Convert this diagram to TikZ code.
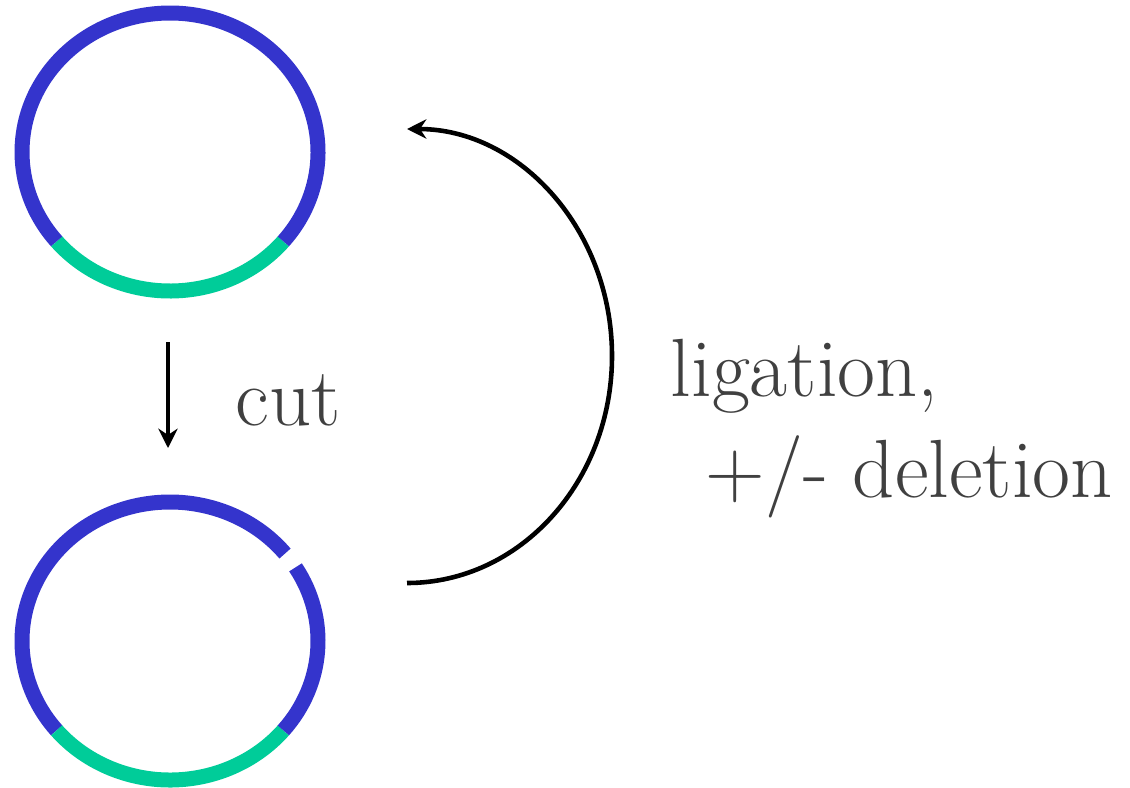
\documentclass[tikz,border=0pt]{standalone}
\usetikzlibrary{arrows.meta}

\definecolor{dnablue}{RGB}{52,52,204}
\definecolor{insertgreen}{RGB}{0,204,153}
\definecolor{textgray}{RGB}{64,64,64}

\tikzset{
  strand/.style={line width=0.15cm, line cap=butt},
  stepword/.style={text=textgray, inner sep=0pt, anchor=base west,
    font=\fontsize{23.5}{28.7}\selectfont},
  steparrow/.style={-{Stealth[length=5.5pt,width=5.5pt]}, line width=1pt}
}

\begin{document}
\begin{tikzpicture}
\useasboundingbox (0,0) rectangle (11.3,7.87);

% whole plasmid
\coordinate (plasmid) at (1.70,6.35);
\draw[strand, insertgreen] (plasmid) ++(220:1.48 and 1.39)
  arc[start angle=220, end angle=320, x radius=1.48, y radius=1.39];
\draw[strand, dnablue] (plasmid) ++(320:1.48 and 1.39)
  arc[start angle=320, end angle=580, x radius=1.48, y radius=1.39];

% cut plasmid
\coordinate (cutplasmid) at (1.70,1.46);
\draw[strand, dnablue] (cutplasmid) ++(39:1.48 and 1.39)
  arc[start angle=39, end angle=220, x radius=1.48, y radius=1.39];
\draw[strand, insertgreen] (cutplasmid) ++(220:1.48 and 1.39)
  arc[start angle=220, end angle=320, x radius=1.48, y radius=1.39];
\draw[strand, dnablue] (cutplasmid) ++(320:1.48 and 1.39)
  arc[start angle=320, end angle=392, x radius=1.48, y radius=1.39];

% cut step
\coordinate (cuttop) at (1.68,4.45);
\coordinate (cutbottom) at (1.68,3.39);
\draw[steparrow, line width=1.05pt] (cuttop) -- (cutbottom);
\node[stepword] (cut) at(2.35,3.62){cut};

% ligation step
\coordinate (ligstart) at (4.07,2.04);
\draw[steparrow, line width=1.3pt] (ligstart)
  arc[start angle=-90, end angle=90, x radius=2.05, y radius=2.27];
\node[stepword, align=left] (ligation) at(6.70,2.90){ligation,\\\hspace*{0.35cm}+/- deletion};

\end{tikzpicture}
\end{document}
